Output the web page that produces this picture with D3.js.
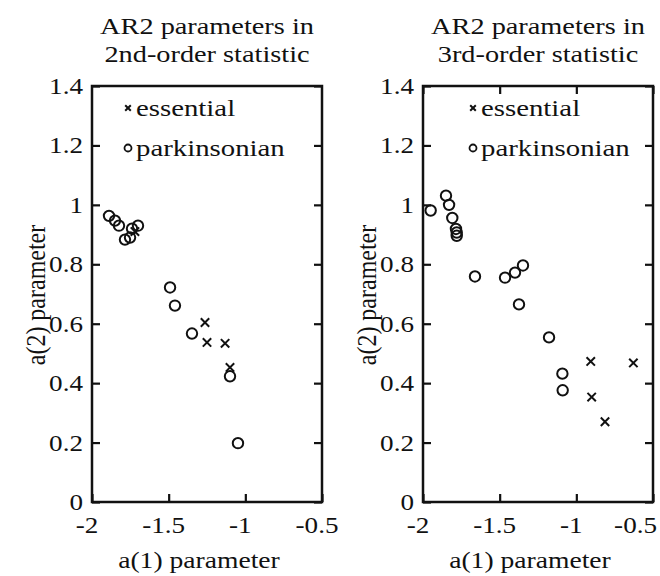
<!DOCTYPE html>
<html>
<head>
<meta charset="utf-8">
<script src="https://cdn.jsdelivr.net/npm/d3@7"></script>
<style>
  html, body { margin: 0; padding: 0; background: #fff; }
  svg { display: block; }
</style>
</head>
<body>
<svg id="chart" width="660" height="576"></svg>
<script>
// Axis ticks
const xTickValues = [-2, -1.5, -1, -0.5];
const yTickValues = [0, 0.2, 0.4, 0.6, 0.8, 1, 1.2, 1.4];

// Panel titles and labels
const panelTitles = [
  ["AR2 parameters in", "2nd-order statistic"],
  ["AR2 parameters in", "3rd-order statistic"]
];
const seriesNames = ["essential", "parkinsonian"];
const xLabel = "a(1) parameter";
const yLabel = "a(2) parameter";

// 2nd-order statistic: [a(1), a(2)]
const essential2nd = [
  [-1.72, 0.91], [-1.263, 0.604], [-1.250, 0.537], [-1.132, 0.534], [-1.100, 0.453]
];
const parkinsonian2nd = [
  [-1.889, 0.963], [-1.850, 0.947], [-1.824, 0.930], [-1.739, 0.920],
  [-1.700, 0.930], [-1.785, 0.883], [-1.752, 0.890], [-1.491, 0.722],
  [-1.459, 0.661], [-1.348, 0.567], [-1.100, 0.423], [-1.048, 0.198]
];

// 3rd-order statistic: [a(1), a(2)]
const essential3rd = [
  [-0.906, 0.473], [-0.628, 0.468], [-0.900, 0.353], [-0.813, 0.270]
];
const parkinsonian3rd = [
  [-1.950, 0.981], [-1.850, 1.031], [-1.830, 1.000], [-1.809, 0.956],
  [-1.785, 0.919], [-1.780, 0.907], [-1.780, 0.896], [-1.661, 0.759],
  [-1.465, 0.755], [-1.400, 0.772], [-1.348, 0.796], [-1.374, 0.665],
  [-1.178, 0.554], [-1.091, 0.432], [-1.089, 0.376]
];

const FONT = "'Liberation Serif', 'Times New Roman', serif";
const svg = d3.select("#chart");
const RIGHT_LIMIT = 657;

// Text in a serif face, widened horizontally on screen by `stretch`.
function label(g, x, y, text, opts = {}) {
  const stretch = opts.stretch || 1.13;
  const rot = opts.rotate ? ` rotate(${opts.rotate})` : "";
  const sc = opts.rotate ? `scale(1,${stretch})` : `scale(${stretch},1)`;
  const t = g.append("text")
    .attr("transform", `translate(${x},${y})${rot} ${sc}`)
    .attr("text-anchor", opts.anchor || "middle")
    .attr("font-family", FONT)
    .attr("font-size", opts.size || 24)
    .attr("fill", "#111")
    .text(text);
  if (opts.clamp) {
    const w = t.node().getBBox().width * stretch;
    if (x + w / 2 > RIGHT_LIMIT) {
      t.attr("transform", `translate(${RIGHT_LIMIT - w / 2},${y}) ${sc}`);
    }
  }
  return t;
}

const panels = [
  { left: 92, titles: panelTitles[0], ess: essential2nd, park: parkinsonian2nd,
    topTicks: false, legendX: 128 },
  { left: 423, titles: panelTitles[1], ess: essential3rd, park: parkinsonian3rd,
    topTicks: true, legendX: 473 }
];

const plotTop = 86, plotBottom = 502, plotWidth = 230;

function crossPath(s) {
  return `M${-s},${-s}L${s},${s}M${-s},${s}L${s},${-s}`;
}

panels.forEach(p => {
  const g = svg.append("g");
  const x = d3.scaleLinear().domain([-2, -0.5]).range([p.left, p.left + plotWidth]);
  const y = d3.scaleLinear().domain([0, 1.4]).range([plotBottom, plotTop]);
  const fmt = d => String(d);

  // bottom axis, ticks pointing inward
  g.append("g").attr("transform", `translate(0,${plotBottom})`)
    .call(d3.axisBottom(x).tickValues(xTickValues).tickSize(-8).tickFormat(fmt));
  // left axis
  g.append("g").attr("transform", `translate(${p.left},0)`)
    .call(d3.axisLeft(y).tickValues(yTickValues).tickSize(-8).tickFormat(fmt));
  // right axis (ticks only)
  g.append("g").attr("transform", `translate(${p.left + plotWidth},0)`)
    .call(d3.axisRight(y).tickValues(yTickValues).tickSize(-8).tickFormat(""));
  if (p.topTicks) {
    g.append("g").attr("transform", `translate(0,${plotTop})`)
      .call(d3.axisTop(x).tickValues(xTickValues).tickSize(-8).tickFormat(""));
  }
  g.selectAll(".domain").remove();
  g.selectAll(".tick line").attr("stroke", "#111").attr("stroke-width", 2.2);
  g.selectAll(".tick text").remove();

  // tick labels: the digits sit over the tick, the minus sign hangs left
  xTickValues.forEach(v => label(g, x(v) - 5, plotBottom + 31, fmt(v), { clamp: true }));
  yTickValues.forEach(v => label(g, p.left - 9, y(v) + 8, fmt(v), { anchor: "end" }));

  // frame
  g.append("rect")
    .attr("x", p.left).attr("y", plotTop)
    .attr("width", plotWidth).attr("height", plotBottom - plotTop)
    .attr("fill", "none").attr("stroke", "#111").attr("stroke-width", 2.5);

  // title
  label(g, p.left + plotWidth / 2, 34, p.titles[0], { stretch: 1.18 });
  label(g, p.left + plotWidth / 2, 62, p.titles[1], { stretch: 1.18 });

  // axis titles
  label(g, p.left + plotWidth / 2 - 8, 568, xLabel, { stretch: 1.15 });
  label(g, p.left - 47, (plotTop + plotBottom) / 2 + 1, yLabel, { rotate: -90, stretch: 1.13 });

  // parkinsonian circles
  g.append("g").selectAll("circle").data(p.park).join("circle")
    .attr("cx", d => x(d[0])).attr("cy", d => y(d[1])).attr("r", 5.2)
    .attr("fill", "none").attr("stroke", "#111").attr("stroke-width", 2);
  // essential crosses
  g.append("g").selectAll("path").data(p.ess).join("path")
    .attr("transform", d => `translate(${x(d[0])},${y(d[1])})`)
    .attr("d", crossPath(4.2))
    .attr("fill", "none").attr("stroke", "#111").attr("stroke-width", 2);

  // legend
  const lg = g.append("g");
  lg.append("path").attr("transform", `translate(${p.legendX},108)`)
    .attr("d", crossPath(2.8)).attr("stroke", "#111").attr("stroke-width", 2);
  lg.append("circle").attr("cx", p.legendX).attr("cy", 148).attr("r", 3.5)
    .attr("fill", "none").attr("stroke", "#111").attr("stroke-width", 1.8);
  label(lg, p.legendX + 8, 116, seriesNames[0], { anchor: "start", stretch: 1.2 });
  label(lg, p.legendX + 8, 156, seriesNames[1], { anchor: "start", stretch: 1.2 });
});
</script>
</body>
</html>
